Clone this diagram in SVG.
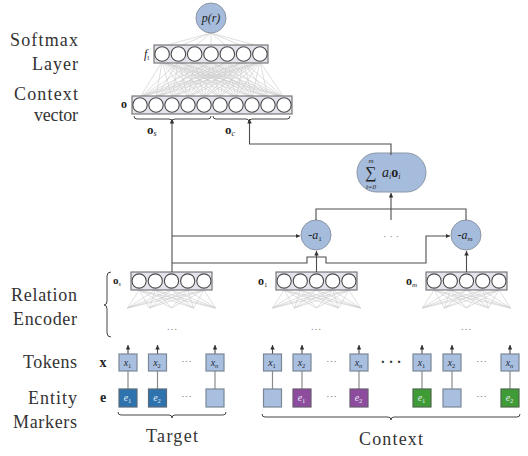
<svg xmlns="http://www.w3.org/2000/svg" xmlns:xlink="http://www.w3.org/1999/xlink" width="528" height="456" viewBox="0 0 528 456">
  <style>
    .lbl { font-family: 'Liberation Serif', 'Times New Roman', serif; font-size: 18px; fill: #333; text-anchor: end; }
    .math { font-family: 'Liberation Serif', serif; fill: #222; }
    .it { font-style: italic; }
    .bf { font-weight: bold; }
    .layer { fill: #e3e3ec; stroke: #6e6e6e; stroke-width: 1.1; }
    .unit { fill: #ffffff; stroke: #4a4a4a; stroke-width: 1.1; }
    .fc { stroke: #c9c9c9; stroke-width: 0.6; fill: none; }
    .node { fill: #a6bcdc; stroke: #8a96a6; stroke-width: 1; }
    .tok { fill: #a9bfdf; stroke: #7a8796; stroke-width: 1.2; }
    .ent-b { fill: #2f73ae; stroke: #5a6a7a; stroke-width: 1.2; }
    .ent-p { fill: #8e4c9e; stroke: #6a5a72; stroke-width: 1.2; }
    .ent-g { fill: #3f9b36; stroke: #4f6a4a; stroke-width: 1.2; }
    .wire { stroke: #4d4d4d; stroke-width: 1.1; fill: none; }
    .link { stroke: #8c8c8c; stroke-width: 1.2; fill: none; }
    .brace { stroke: #444; stroke-width: 1; fill: none; }
    .dots { font-family: 'Liberation Serif', serif; font-size: 11px; fill: #888; text-anchor: middle; }
    .tt { font-family: 'Liberation Serif', serif; font-size: 10px; font-style: italic; fill: #1e2a3a; text-anchor: middle; }
    .te { font-family: 'Liberation Serif', serif; font-size: 10px; font-style: italic; fill: #e8eef6; text-anchor: middle; }
    .cap { font-family: 'Liberation Serif', 'Times New Roman', serif; font-size: 18px; fill: #333; text-anchor: middle; }
  </style>
  <defs>
    <marker id="ah" viewBox="0 0 6 6" refX="6" refY="3" markerWidth="4.5" markerHeight="4.5" orient="auto" markerUnits="userSpaceOnUse">
      <path d="M0,0 L6,3 L0,6 z" fill="#333"/>
    </marker>
    <!-- relation encoder output layer: 5 units over a fully connected fan -->
    <g id="enc">
      <path class="fc" d="M-32.4 18L-44 36M-32.4 18L-22 36M-32.4 18L0 36M-32.4 18L22 36M-32.4 18L44 36
        M-16.2 18L-44 36M-16.2 18L-22 36M-16.2 18L0 36M-16.2 18L22 36M-16.2 18L44 36
        M0 18L-44 36M0 18L-22 36M0 18L22 36M0 18L44 36
        M16.2 18L-44 36M16.2 18L-22 36M16.2 18L0 36M16.2 18L22 36M16.2 18L44 36
        M32.4 18L-44 36M32.4 18L-22 36M32.4 18L0 36M32.4 18L22 36M32.4 18L44 36"/>
      <rect class="layer" x="-40.5" y="0" width="81" height="18"/>
      <circle class="unit" cx="-32.4" cy="9" r="7.1"/>
      <circle class="unit" cx="-16.2" cy="9" r="7.1"/>
      <circle class="unit" cx="0" cy="9" r="7.1"/>
      <circle class="unit" cx="16.2" cy="9" r="7.1"/>
      <circle class="unit" cx="32.4" cy="9" r="7.1"/>
    </g>
    <!-- token arrow pointing up into the encoder -->
    <path id="up" class="wire" d="M0 9V0" marker-end="url(#ah)"/>
  </defs>

  <!-- row labels -->
  <g id="labels">
    <text class="lbl" x="78" y="46" textLength="68">Softmax</text>
    <text class="lbl" x="78" y="70" textLength="46">Layer</text>
    <text class="lbl" x="78" y="100" textLength="64">Context</text>
    <text class="lbl" x="78" y="121" textLength="44">vector</text>
    <text class="lbl" x="77" y="301" textLength="66">Relation</text>
    <text class="lbl" x="77" y="325" textLength="64">Encoder</text>
    <text class="lbl" x="77" y="368" textLength="54">Tokens</text>
    <text class="lbl" x="77" y="404" textLength="49">Entity</text>
    <text class="lbl" x="77" y="428" textLength="64">Markers</text>
  </g>

  <!-- fully connected weights between context vector, softmax layer and output -->
  <g id="weights">
    <path class="fc" d="M211 33L162.1 46.5M211 33L178.4 46.5M211 33L194.7 46.5M211 33L211 46.5M211 33L227.3 46.5M211 33L243.6 46.5M211 33L259.9 46.5"/>
    <path class="fc" d="
      M162.1 61.5L140 97.5M162.1 61.5L156 97.5M162.1 61.5L172 97.5M162.1 61.5L188 97.5M162.1 61.5L204 97.5M162.1 61.5L220 97.5M162.1 61.5L236 97.5M162.1 61.5L252 97.5M162.1 61.5L268 97.5M162.1 61.5L284 97.5
      M178.4 61.5L140 97.5M178.4 61.5L156 97.5M178.4 61.5L172 97.5M178.4 61.5L188 97.5M178.4 61.5L204 97.5M178.4 61.5L220 97.5M178.4 61.5L236 97.5M178.4 61.5L252 97.5M178.4 61.5L268 97.5M178.4 61.5L284 97.5
      M194.7 61.5L140 97.5M194.7 61.5L156 97.5M194.7 61.5L172 97.5M194.7 61.5L188 97.5M194.7 61.5L204 97.5M194.7 61.5L220 97.5M194.7 61.5L236 97.5M194.7 61.5L252 97.5M194.7 61.5L268 97.5M194.7 61.5L284 97.5
      M211 61.5L140 97.5M211 61.5L156 97.5M211 61.5L172 97.5M211 61.5L188 97.5M211 61.5L204 97.5M211 61.5L220 97.5M211 61.5L236 97.5M211 61.5L252 97.5M211 61.5L268 97.5M211 61.5L284 97.5
      M227.3 61.5L140 97.5M227.3 61.5L156 97.5M227.3 61.5L172 97.5M227.3 61.5L188 97.5M227.3 61.5L204 97.5M227.3 61.5L220 97.5M227.3 61.5L236 97.5M227.3 61.5L252 97.5M227.3 61.5L268 97.5M227.3 61.5L284 97.5
      M243.6 61.5L140 97.5M243.6 61.5L156 97.5M243.6 61.5L172 97.5M243.6 61.5L188 97.5M243.6 61.5L204 97.5M243.6 61.5L220 97.5M243.6 61.5L236 97.5M243.6 61.5L252 97.5M243.6 61.5L268 97.5M243.6 61.5L284 97.5
      M259.9 61.5L140 97.5M259.9 61.5L156 97.5M259.9 61.5L172 97.5M259.9 61.5L188 97.5M259.9 61.5L204 97.5M259.9 61.5L220 97.5M259.9 61.5L236 97.5M259.9 61.5L252 97.5M259.9 61.5L268 97.5M259.9 61.5L284 97.5"/>
  </g>

  <!-- output node p(r) -->
  <g id="p-r">
    <circle class="node" cx="211" cy="18" r="15"/>
    <text class="math it" x="211" y="22" font-size="12" text-anchor="middle">p(r)</text>
  </g>

  <!-- softmax layer f_l -->
  <g id="softmax-layer">
    <rect class="layer" x="154" y="45" width="114" height="18"/>
    <circle class="unit" cx="162.1" cy="54" r="7.3"/>
    <circle class="unit" cx="178.4" cy="54" r="7.3"/>
    <circle class="unit" cx="194.7" cy="54" r="7.3"/>
    <circle class="unit" cx="211" cy="54" r="7.3"/>
    <circle class="unit" cx="227.3" cy="54" r="7.3"/>
    <circle class="unit" cx="243.6" cy="54" r="7.3"/>
    <circle class="unit" cx="259.9" cy="54" r="7.3"/>
    <text class="math" x="144" y="58" font-size="12"><tspan class="it">f</tspan><tspan font-size="7" dy="2">l</tspan></text>
  </g>

  <!-- context vector o = [o_s ; o_c] -->
  <g id="context-vector">
    <rect class="layer" x="132" y="96" width="160" height="18"/>
    <circle class="unit" cx="140" cy="105" r="7.2"/>
    <circle class="unit" cx="156" cy="105" r="7.2"/>
    <circle class="unit" cx="172" cy="105" r="7.2"/>
    <circle class="unit" cx="188" cy="105" r="7.2"/>
    <circle class="unit" cx="204" cy="105" r="7.2"/>
    <circle class="unit" cx="220" cy="105" r="7.2"/>
    <circle class="unit" cx="236" cy="105" r="7.2"/>
    <circle class="unit" cx="252" cy="105" r="7.2"/>
    <circle class="unit" cx="268" cy="105" r="7.2"/>
    <circle class="unit" cx="284" cy="105" r="7.2"/>
    <text class="math bf" x="124" y="108" font-size="12" text-anchor="middle">o</text>
    <path class="brace" d="M134 116q0 3 3 3H169q3 0 3 3q0-3 3-3H208q3 0 3-3"/>
    <path class="brace" d="M213 116q0 3 3 3H246q3 0 3 3q0-3 3-3H287q3 0 3-3"/>
    <text class="math" x="147" y="134" font-size="13"><tspan class="bf">o</tspan><tspan class="it" font-size="8" dy="2">s</tspan></text>
    <text class="math" x="225" y="134" font-size="13"><tspan class="bf">o</tspan><tspan class="it" font-size="8" dy="2">c</tspan></text>
  </g>

  <!-- weighted sum node -->
  <g id="sum">
    <rect class="node" x="357" y="153" width="69" height="39" rx="19.5" ry="19.5"/>
    <text class="math" x="371" y="178" font-size="16" text-anchor="middle">∑</text>
    <text class="math it" x="371" y="163" font-size="7" text-anchor="middle">m</text>
    <text class="math it" x="371" y="189" font-size="7" text-anchor="middle">i=0</text>
    <text class="math" x="382" y="177" font-size="14"><tspan class="it">a</tspan><tspan class="it" font-size="8" dy="2">i</tspan><tspan class="bf" dy="-2">o</tspan><tspan class="it" font-size="8" dy="2">i</tspan></text>
  </g>

  <!-- attention weights -->
  <g id="a1">
    <circle class="node" cx="316" cy="235" r="15"/>
    <text class="math" x="315" y="239" font-size="12" text-anchor="middle">-<tspan class="it">a</tspan><tspan font-size="7" dy="2">1</tspan></text>
  </g>
  <g id="am">
    <circle class="node" cx="466" cy="235" r="15"/>
    <text class="math" x="465" y="239" font-size="12" text-anchor="middle">-<tspan class="it">a</tspan><tspan class="it" font-size="7" dy="2">m</tspan></text>
  </g>
  <text class="dots" x="391" y="240" font-size="12">· · ·</text>

  <!-- relation encoders -->
  <g id="enc-s">
    <use xlink:href="#enc" href="#enc" transform="translate(171.5,272)"/>
    <text class="math" x="113" y="284" font-size="11"><tspan class="bf">o</tspan><tspan class="it" font-size="6" dy="2">s</tspan></text>
    <text class="dots" x="172" y="330">…</text>
  </g>
  <g id="enc-1">
    <use xlink:href="#enc" href="#enc" transform="translate(316.5,272)"/>
    <text class="math" x="258" y="285" font-size="12"><tspan class="bf">o</tspan><tspan font-size="7" dy="2">1</tspan></text>
    <text class="dots" x="316" y="330">…</text>
  </g>
  <g id="enc-m">
    <use xlink:href="#enc" href="#enc" transform="translate(466.5,272)"/>
    <text class="math" x="406" y="285" font-size="12"><tspan class="bf">o</tspan><tspan class="it" font-size="7" dy="2">m</tspan></text>
    <text class="dots" x="466" y="330">…</text>
  </g>
  <path class="brace" d="M111 272q-4 0-4 4V301q0 4-3 4q3 0 3 4V333q0 4 4 4"/>

  <!-- connectors -->
  <g id="connectors">
    <path class="wire" d="M172 272V119" marker-end="url(#ah)"/>
    <path class="wire" d="M391 155V144H249.5V119" marker-end="url(#ah)"/>
    <path class="wire" d="M172 236H300" marker-end="url(#ah)"/>
    <path class="wire" d="M172 263H307V257H326V263H426V236H450" marker-end="url(#ah)"/>
    <path class="wire" d="M316.5 272V251" marker-end="url(#ah)"/>
    <path class="wire" d="M466.5 272V251" marker-end="url(#ah)"/>
    <path class="wire" d="M316 220V209H466V220"/>
    <path class="wire" d="M391 220V193" marker-end="url(#ah)"/>
  </g>

  <!-- token inputs and entity markers -->
  <g id="tokens">
    <text class="math bf" x="103" y="367" font-size="14" text-anchor="middle">x</text>
    <text class="math bf" x="103" y="402" font-size="14" text-anchor="middle">e</text>

    <path class="link" d="M128 371V389M157.5 371V389M215 371V389M272.5 371V389M302 371V389M359 371V389M422 371V389M452 371V389M510 371V389"/>
    <use href="#up" xlink:href="#up" x="128" y="345"/>
    <use href="#up" xlink:href="#up" x="157.5" y="345"/>
    <use href="#up" xlink:href="#up" x="215" y="345"/>
    <use href="#up" xlink:href="#up" x="272.5" y="345"/>
    <use href="#up" xlink:href="#up" x="302" y="345"/>
    <use href="#up" xlink:href="#up" x="359" y="345"/>
    <use href="#up" xlink:href="#up" x="422" y="345"/>
    <use href="#up" xlink:href="#up" x="452" y="345"/>
    <use href="#up" xlink:href="#up" x="510" y="345"/>

    <g id="tok-target">
      <rect class="tok" x="119" y="354" width="18" height="17"/>
      <text class="tt" x="127.5" y="366">x<tspan font-size="6.5" font-style="normal" dy="1.5">1</tspan></text>
      <rect class="tok" x="148.5" y="354" width="18" height="17"/>
      <text class="tt" x="157" y="366">x<tspan font-size="6.5" font-style="normal" dy="1.5">2</tspan></text>
      <text class="dots" x="186" y="366">⋯</text>
      <rect class="tok" x="206" y="354" width="18" height="17"/>
      <text class="tt" x="214.5" y="366">x<tspan font-size="6.5" dy="1.5">n</tspan></text>

      <rect class="ent-b" x="119" y="389" width="18" height="18"/>
      <text class="te" x="127.5" y="401">e<tspan font-size="6.5" font-style="normal" dy="1.5">1</tspan></text>
      <rect class="ent-b" x="148.5" y="389" width="18" height="18"/>
      <text class="te" x="157" y="401">e<tspan font-size="6.5" font-style="normal" dy="1.5">2</tspan></text>
      <text class="dots" x="186" y="401">⋯</text>
      <rect class="tok" x="206" y="389" width="18" height="18"/>
    </g>

    <g id="tok-context">
      <rect class="tok" x="263.5" y="354" width="18" height="17"/>
      <text class="tt" x="272" y="366">x<tspan font-size="6.5" font-style="normal" dy="1.5">1</tspan></text>
      <rect class="tok" x="293" y="354" width="18" height="17"/>
      <text class="tt" x="301.5" y="366">x<tspan font-size="6.5" font-style="normal" dy="1.5">2</tspan></text>
      <text class="dots" x="331" y="366">⋯</text>
      <rect class="tok" x="350" y="354" width="18" height="17"/>
      <text class="tt" x="358.5" y="366">x<tspan font-size="6.5" dy="1.5">n</tspan></text>

      <text x="391" y="367" font-family="'Liberation Serif', serif" font-size="14" font-weight="bold" fill="#333" text-anchor="middle">· · ·</text>

      <rect class="tok" x="413" y="354" width="18" height="17"/>
      <text class="tt" x="421.5" y="366">x<tspan font-size="6.5" font-style="normal" dy="1.5">1</tspan></text>
      <rect class="tok" x="443" y="354" width="18" height="17"/>
      <text class="tt" x="451.5" y="366">x<tspan font-size="6.5" font-style="normal" dy="1.5">2</tspan></text>
      <text class="dots" x="481" y="366">⋯</text>
      <rect class="tok" x="501" y="354" width="18" height="17"/>
      <text class="tt" x="509.5" y="366">x<tspan font-size="6.5" dy="1.5">n</tspan></text>

      <rect class="tok" x="263.5" y="389" width="18" height="18"/>
      <rect class="ent-p" x="293" y="389" width="18" height="18"/>
      <text class="te" x="301.5" y="401">e<tspan font-size="6.5" font-style="normal" dy="1.5">1</tspan></text>
      <text class="dots" x="331" y="401">⋯</text>
      <rect class="ent-p" x="350" y="389" width="18" height="18"/>
      <text class="te" x="358.5" y="401">e<tspan font-size="6.5" font-style="normal" dy="1.5">2</tspan></text>

      <rect class="ent-g" x="413" y="389" width="18" height="18"/>
      <text class="te" x="421.5" y="401">e<tspan font-size="6.5" font-style="normal" dy="1.5">1</tspan></text>
      <rect class="tok" x="443" y="389" width="18" height="18"/>
      <text class="dots" x="481" y="401">⋯</text>
      <rect class="ent-g" x="501" y="389" width="18" height="18"/>
      <text class="te" x="509.5" y="401">e<tspan font-size="6.5" font-style="normal" dy="1.5">2</tspan></text>
    </g>
  </g>

  <!-- groupings -->
  <g id="groups">
    <path class="brace" d="M118 412q0 3 3 3H169q3 0 3 3q0-3 3-3H223q3 0 3-3"/>
    <path class="brace" d="M262 414q0 3 3 3H388q3 0 3 3q0-3 3-3H517q3 0 3-3"/>
    <text class="cap" x="172" y="442" textLength="52">Target</text>
    <text class="cap" x="391" y="445" textLength="64">Context</text>
  </g>
</svg>
